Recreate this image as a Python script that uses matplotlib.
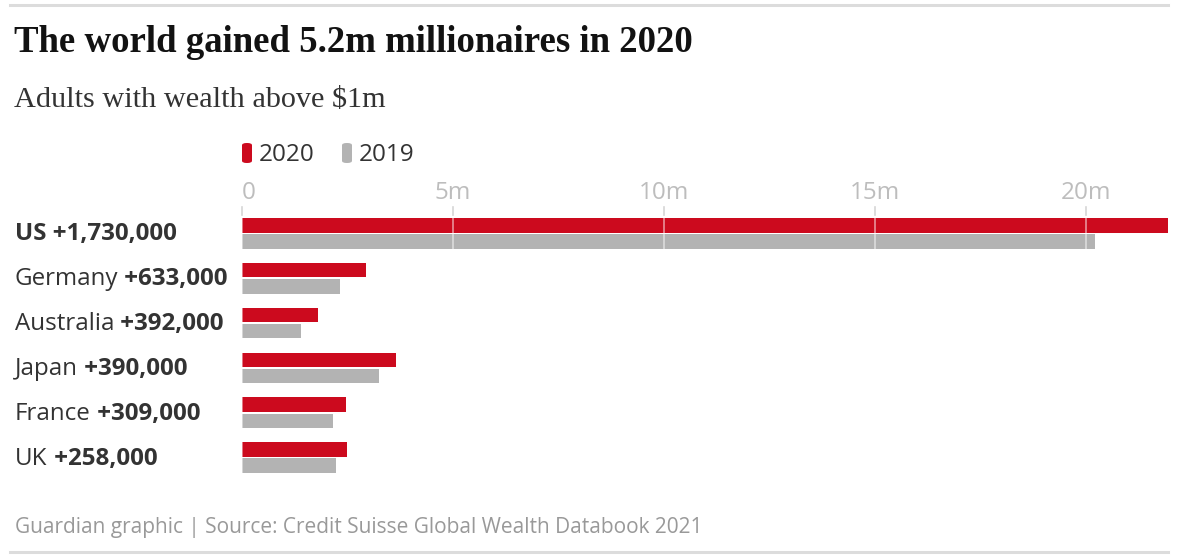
import matplotlib.pyplot as plt
from matplotlib.patches import FancyBboxPatch
from matplotlib.lines import Line2D
import matplotlib.transforms as mtransforms

countries = ["US", "Germany", "Australia", "Japan", "France", "UK"]
gains = ["+1,730,000", "+633,000", "+392,000", "+390,000", "+309,000", "+258,000"]
# millions of adults with wealth above $1m
v2020 = [21.95, 2.95, 1.79, 3.65, 2.46, 2.50]
v2019 = [20.22, 2.32, 1.40, 3.25, 2.15, 2.24]
ticks = [0, 5, 10, 15, 20]
tick_labels = ["0", "5m", "10m", "15m", "20m"]

RED = "#cc0a1e"
GREY = "#b3b3b3"
DARK = "#333333"
SANS = ["Open Sans", "DejaVu Sans"]
SERIF = ["Liberation Serif", "DejaVu Serif"]

W, H = 1177, 558
fig = plt.figure(figsize=(W / 100, H / 100), dpi=100)


def fx(x):
    return x / W


def fy(y):
    return 1 - y / H


# rules at top and bottom
for y in (5, 552):
    fig.add_artist(Line2D([fx(10), fx(1168)], [fy(y), fy(y)], color="#dcdcdc", lw=2.2,
                          transform=fig.transFigure))

fig.text(fx(14), fy(42), "The world gained 5.2m millionaires in 2020", family=SERIF,
         weight="bold", fontsize=26.5, color="#121212", va="center")
fig.text(fx(14), fy(100), "Adults with wealth above $1m", family=SERIF, fontsize=21.8,
         color=DARK, va="center")

# legend
for x0, col, lab in [(242, RED, "2020"), (342, GREY, "2019")]:
    fig.add_artist(FancyBboxPatch((fx(x0), fy(163)), fx(10), 20 / H,
                                  boxstyle="round,pad=0,rounding_size=0.004",
                                  transform=fig.transFigure, color=col, lw=0))
    fig.text(fx(x0 + 17), fy(155), lab, family=SANS, fontsize=17.5, color=DARK,
             va="center")

top, bottom = 218, 473
ax = fig.add_axes([fx(242), fy(bottom), fx(1168 - 242), (bottom - top) / H])
h = 0.325
off = 0.18
ypos = list(range(len(countries)))
ax.barh([y - off for y in ypos], v2020, height=h, color=RED, zorder=2)
ax.barh([y + off for y in ypos], v2019, height=h, color=GREY, zorder=2)
ax.set_xlim(0, 21.95)
ax.set_ylim(5 + off + h / 2, -off - h / 2)
ax.axis("off")

xt = ax.get_xaxis_transform()
px = 1 / (bottom - top)
for t, lab in zip(ticks, tick_labels):
    ax.axvline(t, color="white", alpha=0.55, lw=1.2, zorder=3)
    ax.plot([t, t], [1 + 3 * px, 1 + 11 * px], color="#d6d6d6", lw=1.2,
            transform=xt, clip_on=False)
    ax.text(t, 1 + 25 * px, lab, transform=xt, family=SANS, fontsize=17.5,
            color="#bdbdbd", ha="left" if t == 0 else "center", va="center")

# country labels: name in regular, gain in bold (US all bold)
lt = mtransforms.blended_transform_factory(fig.transFigure, ax.transData)
for i, (c, g) in enumerate(zip(countries, gains)):
    y = i + 0.02
    if c == "US":
        fig.text(fx(15), y, f"{c} {g}", transform=lt, family=SANS, fontsize=17.4,
                 weight="bold", color=DARK, va="center")
    else:
        t1 = fig.text(fx(15), y, c, transform=lt, family=SANS, fontsize=17.4,
                      color=DARK, va="center")
        ax.annotate(" " + g, xy=(1, 0.5), xycoords=t1, family=SANS, fontsize=17.4,
                    weight="bold", color=DARK, va="center", ha="left",
                    annotation_clip=False)

fig.text(fx(15), fy(528), "Guardian graphic | Source: Credit Suisse Global Wealth Databook 2021",
         family=SANS, fontsize=15, color="#999999", va="center")

fig.savefig("out.png", dpi=100, facecolor="white")
